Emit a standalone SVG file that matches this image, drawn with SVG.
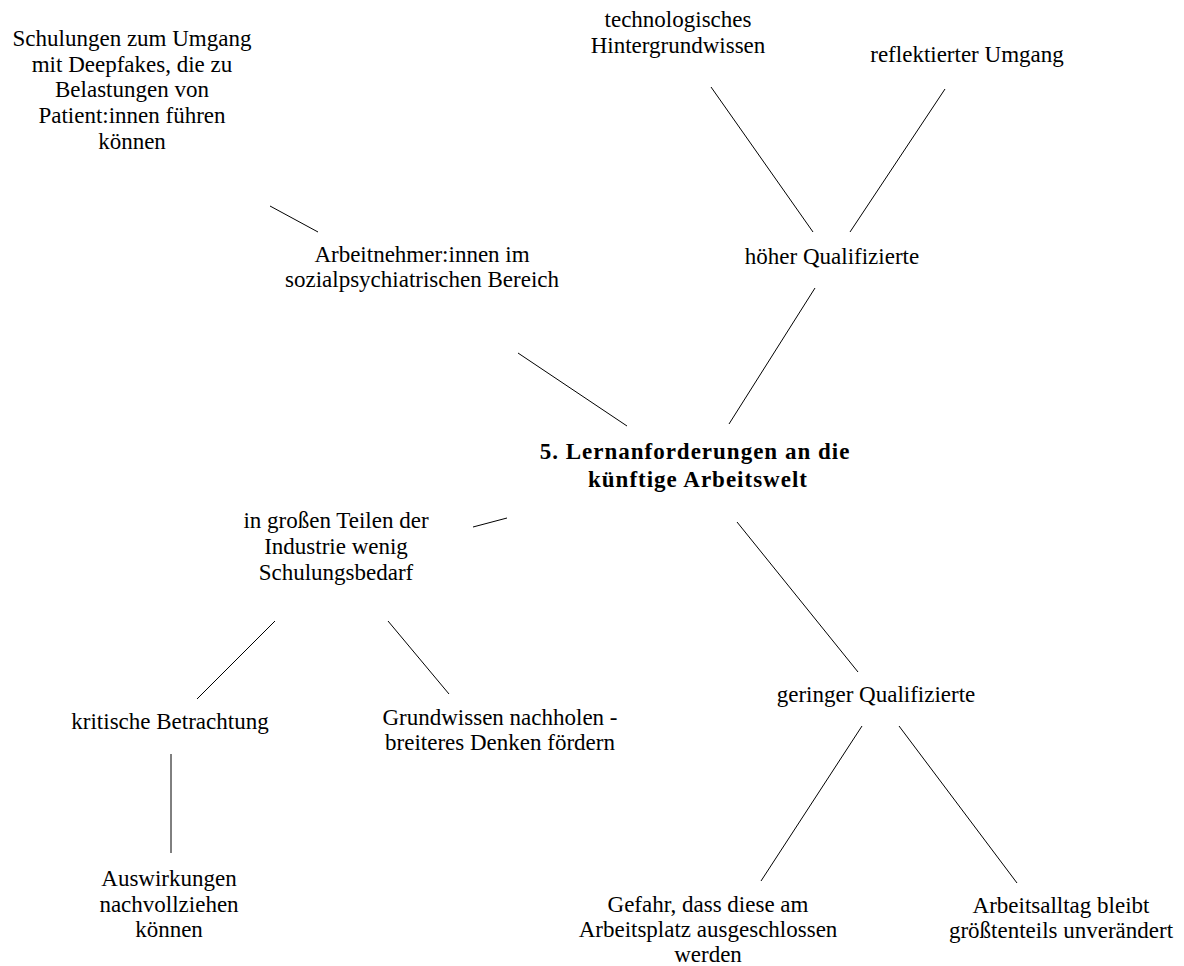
<svg xmlns="http://www.w3.org/2000/svg" width="1184" height="966" viewBox="0 0 1184 966">
  <style>
    text { font-family: 'Liberation Serif', 'Times New Roman', serif; font-size: 23px; fill: #000; text-anchor: middle; }
    .root { font-weight: bold; letter-spacing: 1px; }
    .edge { stroke: #000; stroke-width: 1; fill: none; }
  </style>
  <rect width="1184" height="966" fill="#fff"/>

  <!-- connectors -->
  <g id="connectors">
    <line class="edge" x1="270" y1="206" x2="318" y2="232"/>
    <line class="edge" x1="711" y1="87" x2="813" y2="232"/>
    <line class="edge" x1="945" y1="89" x2="850" y2="232"/>
    <line class="edge" x1="815" y1="288" x2="729" y2="424"/>
    <line class="edge" x1="518" y1="353" x2="627" y2="426"/>
    <line class="edge" x1="507" y1="518" x2="473" y2="527"/>
    <line class="edge" x1="737" y1="522" x2="858" y2="672"/>
    <line class="edge" x1="275" y1="621" x2="197" y2="699"/>
    <line class="edge" x1="388" y1="621" x2="449" y2="694"/>
    <line class="edge" x1="171" y1="754" x2="171" y2="853"/>
    <line class="edge" x1="862" y1="726" x2="761" y2="881"/>
    <line class="edge" x1="899" y1="726" x2="1017" y2="883"/>
  </g>

  <!-- central topic -->
  <g id="root">
    <text class="root" x="695" y="459">5. Lernanforderungen an die</text>
    <text class="root" x="698" y="487">künftige Arbeitswelt</text>
  </g>

  <g id="n-sozialpsych">
    <text x="422" y="262">Arbeitnehmer:innen im</text>
    <text x="422" y="287">sozialpsychiatrischen Bereich</text>
  </g>

  <g id="n-deepfakes">
    <text x="132" y="46">Schulungen zum Umgang</text>
    <text x="132" y="72">mit Deepfakes, die zu</text>
    <text x="132" y="97">Belastungen von</text>
    <text x="132" y="123">Patient:innen führen</text>
    <text x="132" y="149">können</text>
  </g>

  <g id="n-hoeher">
    <text x="832" y="264">höher Qualifizierte</text>
  </g>

  <g id="n-techwissen">
    <text x="678" y="27">technologisches</text>
    <text x="678" y="53">Hintergrundwissen</text>
  </g>

  <g id="n-reflektiert">
    <text x="967" y="62">reflektierter Umgang</text>
  </g>

  <g id="n-industrie">
    <text x="336" y="528">in großen Teilen der</text>
    <text x="336" y="554">Industrie wenig</text>
    <text x="336" y="580">Schulungsbedarf</text>
  </g>

  <g id="n-kritisch">
    <text x="170" y="729">kritische Betrachtung</text>
  </g>

  <g id="n-auswirkungen">
    <text x="169" y="886">Auswirkungen</text>
    <text x="169" y="912">nachvollziehen</text>
    <text x="169" y="937">können</text>
  </g>

  <g id="n-grundwissen">
    <text x="500" y="725">Grundwissen nachholen -</text>
    <text x="500" y="750">breiteres Denken fördern</text>
  </g>

  <g id="n-geringer">
    <text x="876" y="702">geringer Qualifizierte</text>
  </g>

  <g id="n-ausschluss">
    <text x="708" y="912">Gefahr, dass diese am</text>
    <text x="708" y="937">Arbeitsplatz ausgeschlossen</text>
    <text x="708" y="962">werden</text>
  </g>

  <g id="n-alltag">
    <text x="1061" y="913">Arbeitsalltag bleibt</text>
    <text x="1061" y="938">größtenteils unverändert</text>
  </g>
</svg>
